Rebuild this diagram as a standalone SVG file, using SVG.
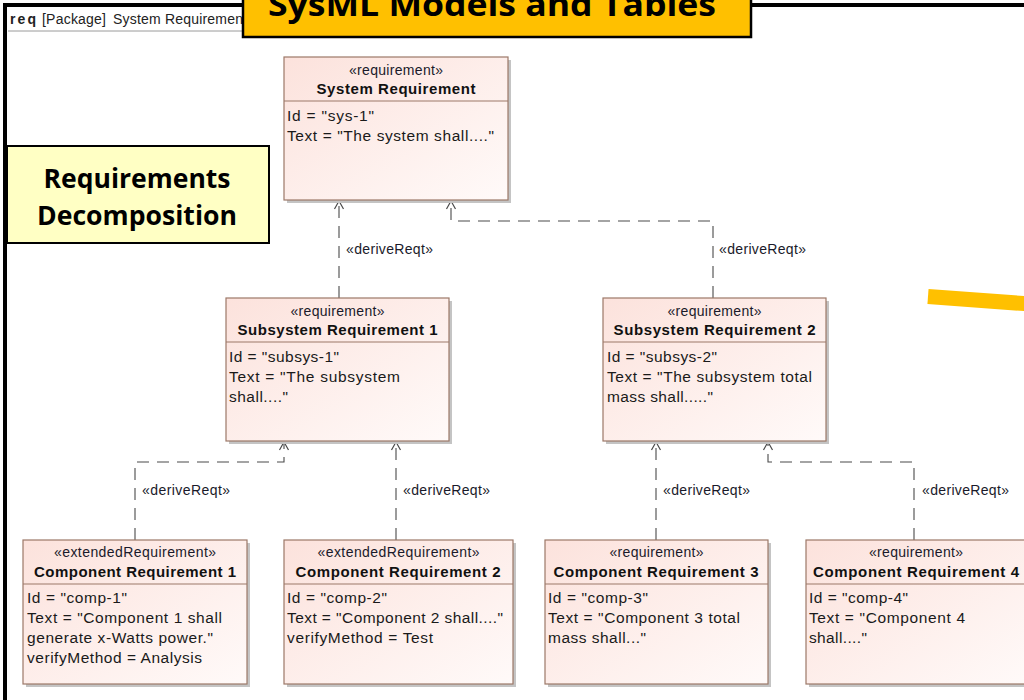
<svg xmlns="http://www.w3.org/2000/svg" width="1024" height="700" viewBox="0 0 1024 700">
  <style>
    .box { fill: url(#reqFill); stroke: #9c7868; stroke-width: 1.2; }
    .shadow { fill: #c4c4c4; }
    .sep { stroke: #9c7868; stroke-width: 1.2; }
    .stereo { font-family: "Liberation Sans", Arial, sans-serif; font-size: 14px; fill: #1a1a2a; text-anchor: middle; }
    .name { font-family: "Liberation Sans", Arial, sans-serif; font-size: 15px; font-weight: bold; fill: #111; text-anchor: middle; }
    .attr { font-family: "Liberation Sans", Arial, sans-serif; font-size: 15.5px; fill: #1a1a1a; }
    .lbl { font-family: "Liberation Sans", Arial, sans-serif; font-size: 14px; fill: #1a1a2a; }
    .dep { fill: none; stroke: #4a4a4a; stroke-width: 1.1; stroke-dasharray: 12 8; marker-end: url(#openArrow); }
    .callout { font-family: "Open Sans", Lato, sans-serif; font-weight: bold; fill: #000; }
  </style>
  <defs>
    <linearGradient id="reqFill" x1="0" y1="0" x2="1" y2="1">
      <stop offset="0" stop-color="#fce2dc"/>
      <stop offset="1" stop-color="#fffaf9"/>
    </linearGradient>
    <!-- open "V" arrowhead, drawn pointing along +x so orient="auto" follows the line -->
    <marker id="openArrow" viewBox="-10 -6 12 12" refX="0" refY="0" markerWidth="12" markerHeight="12" markerUnits="userSpaceOnUse" orient="auto">
      <path d="M-8,-4.5 L0,0 L-8,4.5" fill="none" stroke="#4a4a4a" stroke-width="1.2"/>
    </marker>
  </defs>

  <!-- page background -->
  <rect x="0" y="0" width="1024" height="700" fill="#fff"/>

  <!-- package frame with its header tab -->
  <g id="frame">
    <line x1="8" y1="31" x2="250" y2="31" stroke="#9a9a9a" stroke-width="1"/>
    <path d="M5,700 L5,5 L1030,5" fill="none" stroke="#000" stroke-width="4"/>
    <text x="10" y="24" font-family="Liberation Sans, Arial, sans-serif" font-size="14" font-weight="bold" fill="#222" textLength="26" lengthAdjust="spacing">req</text>
    <text x="42" y="24" font-family="Liberation Sans, Arial, sans-serif" font-size="14" fill="#222" textLength="64" lengthAdjust="spacing">[Package]</text>
    <text x="113" y="24" font-family="Liberation Sans, Arial, sans-serif" font-size="14" fill="#222" textLength="130" lengthAdjust="spacing">System Requiremen</text>
  </g>

  <!-- dependency connectors -->
  <g id="connectors">
    <path class="dep" d="M339,298 L339,201"/>
    <path class="dep" d="M713,298 L713,221 L451,221 L451,201"/>
    <path class="dep" d="M135,540 L135,462 L284,462 L284,442"/>
    <path class="dep" d="M396,540 L396,442"/>
    <path class="dep" d="M656,540 L656,442"/>
    <path class="dep" d="M914,540 L914,462 L768,462 L768,442"/>
    <text class="lbl" x="346" y="254" textLength="87" lengthAdjust="spacing">«deriveReqt»</text>
    <text class="lbl" x="719" y="254" textLength="87" lengthAdjust="spacing">«deriveReqt»</text>
    <text class="lbl" x="142" y="495" textLength="88" lengthAdjust="spacing">«deriveReqt»</text>
    <text class="lbl" x="403" y="495" textLength="87" lengthAdjust="spacing">«deriveReqt»</text>
    <text class="lbl" x="663" y="495" textLength="87" lengthAdjust="spacing">«deriveReqt»</text>
    <text class="lbl" x="922" y="495" textLength="87" lengthAdjust="spacing">«deriveReqt»</text>
  </g>

  <g id="sys-req">
    <rect class="shadow" x="287" y="60" width="224" height="143"/>
    <rect class="box" x="284" y="57" width="224" height="143"/>
    <line class="sep" x1="284" y1="101" x2="508" y2="101"/>
    <text class="stereo" x="396" y="75" textLength="94" lengthAdjust="spacing">«requirement»</text>
    <text class="name" x="396" y="94" textLength="159" lengthAdjust="spacing">System Requirement</text>
    <text class="attr" x="287" y="121" textLength="87" lengthAdjust="spacing">Id = "sys-1"</text>
    <text class="attr" x="287" y="141" textLength="207" lengthAdjust="spacing">Text = "The system shall...."</text>
  </g>

  <g id="subsys-req-1">
    <rect class="shadow" x="229" y="301" width="223" height="143"/>
    <rect class="box" x="226" y="298" width="223" height="143"/>
    <line class="sep" x1="226" y1="342" x2="449" y2="342"/>
    <text class="stereo" x="337.5" y="316" textLength="94" lengthAdjust="spacing">«requirement»</text>
    <text class="name" x="337.5" y="335" textLength="200" lengthAdjust="spacing">Subsystem Requirement 1</text>
    <text class="attr" x="229" y="362" textLength="110" lengthAdjust="spacing">Id = "subsys-1"</text>
    <text class="attr" x="229" y="382" textLength="171" lengthAdjust="spacing">Text = "The subsystem</text>
    <text class="attr" x="229" y="402" textLength="59" lengthAdjust="spacing">shall...."</text>
  </g>

  <g id="subsys-req-2">
    <rect class="shadow" x="606" y="301" width="223" height="143"/>
    <rect class="box" x="603" y="298" width="223" height="143"/>
    <line class="sep" x1="603" y1="342" x2="826" y2="342"/>
    <text class="stereo" x="714.5" y="316" textLength="94" lengthAdjust="spacing">«requirement»</text>
    <text class="name" x="714.5" y="335" textLength="202" lengthAdjust="spacing">Subsystem Requirement 2</text>
    <text class="attr" x="607" y="362" textLength="110" lengthAdjust="spacing">Id = "subsys-2"</text>
    <text class="attr" x="607" y="382" textLength="205" lengthAdjust="spacing">Text = "The subsystem total</text>
    <text class="attr" x="607" y="402" textLength="106" lengthAdjust="spacing">mass shall....."</text>
  </g>

  <g id="comp-req-1">
    <rect class="shadow" x="26" y="543" width="224" height="144"/>
    <rect class="box" x="23" y="540" width="224" height="144"/>
    <line class="sep" x1="23" y1="584" x2="247" y2="584"/>
    <text class="stereo" x="135" y="557" textLength="162" lengthAdjust="spacing">«extendedRequirement»</text>
    <text class="name" x="135" y="577" textLength="202" lengthAdjust="spacing">Component Requirement 1</text>
    <text class="attr" x="27" y="603" textLength="100" lengthAdjust="spacing">Id = "comp-1"</text>
    <text class="attr" x="27" y="623" textLength="195" lengthAdjust="spacing">Text = "Component 1 shall</text>
    <text class="attr" x="27" y="643" textLength="186" lengthAdjust="spacing">generate x-Watts power."</text>
    <text class="attr" x="27" y="663" textLength="175" lengthAdjust="spacing">verifyMethod = Analysis</text>
  </g>

  <g id="comp-req-2">
    <rect class="shadow" x="287" y="543" width="229" height="144"/>
    <rect class="box" x="284" y="540" width="229" height="144"/>
    <line class="sep" x1="284" y1="584" x2="513" y2="584"/>
    <text class="stereo" x="398.5" y="557" textLength="162" lengthAdjust="spacing">«extendedRequirement»</text>
    <text class="name" x="398" y="577" textLength="205" lengthAdjust="spacing">Component Requirement 2</text>
    <text class="attr" x="287" y="603" textLength="100" lengthAdjust="spacing">Id = "comp-2"</text>
    <text class="attr" x="287" y="623" textLength="216" lengthAdjust="spacing">Text = "Component 2 shall...."</text>
    <text class="attr" x="287" y="643" textLength="146" lengthAdjust="spacing">verifyMethod = Test</text>
  </g>

  <g id="comp-req-3">
    <rect class="shadow" x="548" y="543" width="223" height="144"/>
    <rect class="box" x="545" y="540" width="223" height="144"/>
    <line class="sep" x1="545" y1="584" x2="768" y2="584"/>
    <text class="stereo" x="656.5" y="557" textLength="94" lengthAdjust="spacing">«requirement»</text>
    <text class="name" x="656" y="577" textLength="205" lengthAdjust="spacing">Component Requirement 3</text>
    <text class="attr" x="548" y="603" textLength="100" lengthAdjust="spacing">Id = "comp-3"</text>
    <text class="attr" x="548" y="623" textLength="192" lengthAdjust="spacing">Text = "Component 3 total</text>
    <text class="attr" x="548" y="643" textLength="98" lengthAdjust="spacing">mass shall..."</text>
  </g>

  <g id="comp-req-4">
    <rect class="shadow" x="809" y="543" width="222" height="144"/>
    <rect class="box" x="806" y="540" width="222" height="144"/>
    <line class="sep" x1="806" y1="584" x2="1028" y2="584"/>
    <text class="stereo" x="916" y="557" textLength="94" lengthAdjust="spacing">«requirement»</text>
    <text class="name" x="916" y="577" textLength="206" lengthAdjust="spacing">Component Requirement 4</text>
    <text class="attr" x="809" y="603" textLength="99" lengthAdjust="spacing">Id = "comp-4"</text>
    <text class="attr" x="809" y="623" textLength="156" lengthAdjust="spacing">Text = "Component 4</text>
    <text class="attr" x="809" y="643" textLength="58" lengthAdjust="spacing">shall...."</text>
  </g>

  <!-- highlight stroke entering from the right edge -->
  <line x1="928" y1="296.5" x2="1030" y2="304" stroke="#ffc000" stroke-width="15"/>

  <!-- callout: section label -->
  <g id="callout-decomposition">
    <rect x="7" y="146" width="262" height="97" fill="#ffffc4" stroke="#000" stroke-width="2"/>
    <text class="callout" x="137" y="188" font-size="26" text-anchor="middle" textLength="187" lengthAdjust="spacingAndGlyphs">Requirements</text>
    <text class="callout" x="137" y="225" font-size="26" text-anchor="middle" textLength="200" lengthAdjust="spacingAndGlyphs">Decomposition</text>
  </g>

  <!-- callout: slide title -->
  <g id="callout-title">
    <rect x="243" y="-6" width="508" height="43" fill="#ffc000" stroke="#000" stroke-width="2.5"/>
    <text class="callout" x="492" y="16" font-size="33" text-anchor="middle" textLength="448" lengthAdjust="spacingAndGlyphs">SysML Models and Tables</text>
  </g>
</svg>
